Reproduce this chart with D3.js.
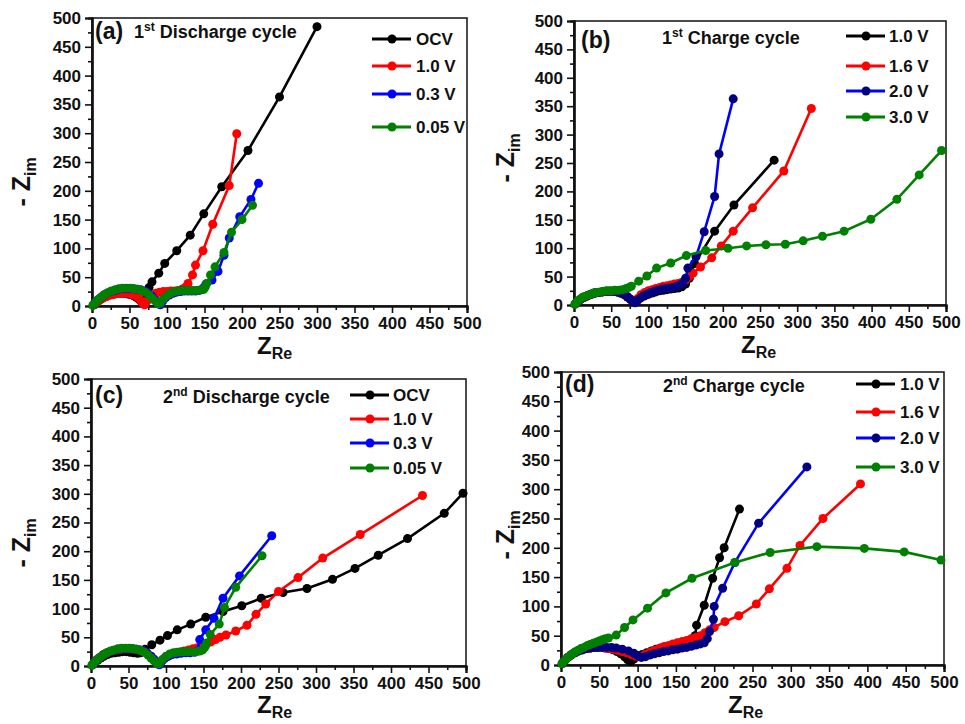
<!DOCTYPE html>
<html>
<head>
<meta charset="utf-8">
<script src="https://cdn.jsdelivr.net/npm/d3@7"></script>
<style>
  body { margin: 0; background: #fff; }
  text { font-family: "Liberation Sans", Arial, sans-serif; font-weight: bold; fill: #111; }
</style>
</head>
<body>
<svg id="fig" width="965" height="724"></svg>
<script>
// ---- ticks / labels ----
var majorTicks = [0, 50, 100, 150, 200, 250, 300, 350, 400, 450, 500]
var minorTicks = [25, 75, 125, 175, 225, 275, 325, 375, 425, 475]
var dischargeLabels = ["OCV", "1.0 V", "0.3 V", "0.05 V"]
var chargeLabels = ["1.0 V", "1.6 V", "2.0 V", "3.0 V"]

// ---- (a) 1st discharge ----
var dis1_ocv = [[3,2],[6,6],[9,9],[12,12],[15,14],[19,17],[23,19],[27,20],[31,21],[35,22],[39,22],[43,22],[47,21],[51,20],[55,18],[59,15],[63,11],[66,7],[69,5],[71,13],[73,24],[76,32],[80,42],[89,57],[97,74],[113,96],[131,123],[149,160],[173,207],[208,270],[250,363],[300,485]]
var dis1_v10 = [[3,2],[7,7],[11,11],[15,14],[20,17],[25,19],[30,21],[35,22],[40,22],[45,22],[50,21],[55,19],[60,16],[64,11],[67,6],[70,2],[73,8],[76,14],[80,19],[85,22],[90,24],[95,25],[100,25],[105,26],[110,26],[115,27],[120,29],[124,32],[128,39],[134,54],[138,71],[148,96],[161,142],[183,209],[193,299]]
var dis1_v03 = [[2,2],[5,7],[8,11],[12,15],[16,19],[20,22],[25,25],[30,27],[35,29],[40,30],[45,30],[50,30],[55,30],[60,29],[65,28],[70,26],[75,22],[80,17],[84,11],[88,5],[91,2],[94,8],[98,14],[103,19],[108,22],[113,24],[118,25],[123,26],[128,26],[133,26],[138,26],[142,27],[146,28],[149,32],[152,38],[160,45],[168,60],[176,88],[183,118],[197,155],[212,185],[222,213]]
var dis1_v005 = [[1,1],[3,4],[6,8],[9,12],[13,16],[17,20],[21,23],[26,26],[31,28],[36,30],[41,31],[46,31],[51,31],[56,30],[61,29],[66,27],[71,24],[76,19],[80,14],[84,9],[88,4],[91,5],[95,12],[100,18],[105,22],[110,25],[115,26],[120,27],[125,27],[130,27],[135,27],[140,27],[145,28],[149,29],[151,33],[153,39],[158,54],[164,68],[176,93],[186,128],[200,150],[214,175]]

// ---- (b) 1st charge ----
var chg1_v10 = [[2,2],[5,6],[9,10],[13,13],[18,16],[23,19],[28,21],[33,22],[38,23],[43,24],[48,24],[53,24],[58,23],[63,21],[68,18],[72,14],[76,10],[79,7],[82,5],[86,9],[90,13],[95,16],[100,19],[105,21],[110,23],[115,25],[120,26],[125,27],[130,28],[135,29],[140,30],[145,32],[150,37],[155,47],[162,73],[189,130],[215,176],[269,255]]
var chg1_v16 = [[2,2],[5,6],[9,10],[13,13],[18,16],[23,19],[28,21],[33,22],[38,23],[43,24],[48,24],[53,24],[58,23],[63,21],[68,18],[72,14],[76,10],[79,7],[82,6],[86,12],[90,18],[95,22],[100,25],[105,27],[110,29],[115,31],[120,33],[125,34],[130,35],[135,37],[140,38],[145,40],[150,44],[155,50],[160,56],[170,67],[185,83],[198,104],[214,130],[240,171],[282,236],[319,346]]
var chg1_v20 = [[2,2],[5,6],[9,10],[13,13],[18,16],[23,19],[28,21],[33,22],[38,23],[43,24],[48,24],[53,24],[58,23],[63,21],[68,18],[72,14],[76,10],[79,6],[82,4],[85,8],[89,12],[93,16],[98,19],[103,22],[108,24],[113,26],[118,28],[123,29],[128,30],[133,31],[138,33],[142,35],[146,38],[150,47],[153,65],[164,85],[175,129],[189,191],[195,266],[214,363]]
var chg1_v30 = [[1,1],[3,4],[5,7],[8,10],[11,13],[14,15],[18,17],[22,19],[26,21],[30,22],[35,23],[40,24],[45,25],[50,25],[55,26],[60,26],[65,27],[70,29],[74,31],[77,33],[87,42],[98,51],[111,65],[130,74],[151,87],[177,96],[207,100],[232,104],[258,106],[284,107],[308,113],[334,121],[363,130],[399,151],[434,186],[464,229],[494,272]]

// ---- (c) 2nd discharge ----
var dis2_ocv = [[2,2],[5,6],[9,10],[13,14],[17,17],[22,20],[27,22],[32,23],[37,24],[42,25],[47,25],[52,24],[57,23],[62,22],[66,23],[72,29],[81,37],[92,45],[102,53],[115,63],[133,73],[153,85],[176,95],[201,105],[227,118],[256,128],[288,135],[322,151],[352,170],[383,193],[422,222],[471,266],[496,301]]
var dis2_v10 = [[2,2],[5,7],[8,11],[12,15],[16,19],[20,22],[25,25],[30,27],[35,28],[40,29],[45,30],[50,30],[55,30],[60,29],[65,28],[70,26],[75,22],[80,17],[84,12],[88,7],[91,4],[95,9],[100,15],[106,19],[112,22],[118,24],[124,26],[130,28],[136,30],[142,32],[148,35],[154,38],[160,42],[166,46],[172,50],[180,54],[193,61],[208,71],[220,90],[233,108],[250,130],[276,154],[309,188],[359,229],[442,297]]
var dis2_v03 = [[2,2],[5,7],[8,11],[12,15],[16,19],[20,22],[25,25],[30,27],[35,29],[40,30],[45,30],[50,30],[55,30],[60,29],[65,28],[70,26],[75,22],[80,17],[84,11],[88,5],[91,2],[94,8],[98,13],[103,17],[108,20],[114,21],[120,22],[126,23],[132,23],[138,24],[142,26],[145,46],[153,63],[164,83],[176,118],[198,157],[241,227]]
var dis2_v005 = [[1,1],[3,4],[6,8],[9,12],[13,16],[17,20],[21,23],[26,26],[31,28],[36,30],[41,31],[46,31],[51,31],[56,30],[61,29],[66,27],[71,24],[76,19],[80,14],[84,9],[88,4],[91,4],[95,11],[100,17],[105,21],[110,23],[115,24],[120,25],[125,25],[130,25],[135,25],[140,25],[145,26],[149,28],[152,33],[154,40],[159,55],[171,73],[178,102],[193,137],[228,192]]

// ---- (d) 2nd charge ----
var chg2_v10 = [[2,3],[5,8],[9,13],[13,17],[18,21],[23,24],[28,26],[33,28],[38,29],[43,30],[48,30],[53,30],[58,29],[63,28],[68,26],[73,23],[78,19],[83,14],[87,9],[91,6],[95,10],[100,14],[106,18],[112,21],[118,24],[124,27],[130,29],[136,31],[142,33],[148,35],[154,37],[160,39],[166,41],[171,44],[175,50],[177,68],[187,102],[198,148],[207,183],[213,200],[233,266]]
var chg2_v16 = [[2,3],[5,8],[9,13],[13,17],[18,21],[23,24],[28,26],[33,28],[38,29],[43,30],[48,30],[53,30],[58,29],[63,28],[68,27],[74,25],[80,23],[86,21],[92,18],[98,15],[104,14],[110,18],[116,22],[122,25],[128,28],[134,31],[140,33],[146,36],[152,38],[158,40],[164,42],[170,45],[176,47],[182,50],[188,55],[194,60],[200,64],[214,74],[232,84],[255,104],[272,130],[295,165],[312,204],[342,250],[391,309]]
var chg2_v20 = [[2,3],[5,8],[9,13],[13,17],[18,21],[23,24],[28,26],[33,28],[38,29],[43,30],[48,30],[54,30],[60,30],[66,30],[72,29],[80,27],[88,24],[95,20],[100,16],[105,13],[110,14],[116,17],[122,19],[128,21],[134,23],[140,24],[146,26],[152,27],[158,29],[164,30],[170,32],[176,34],[182,36],[187,38],[191,45],[194,57],[199,78],[200,100],[211,131],[227,175],[258,242],[321,338]]
var chg2_v30 = [[1,2],[3,5],[6,9],[9,13],[12,16],[15,19],[18,22],[22,25],[26,28],[30,30],[34,33],[38,35],[42,37],[46,39],[50,41],[54,43],[58,45],[62,46],[72,51],[83,64],[94,77],[113,97],[137,123],[171,148],[227,175],[273,192],[334,202],[396,199],[448,193],[496,179]]

// ---- layout ----
var lineColors = ["#000000", "#ff0000", "#0000ff", "#008000"]
var dischargeDots = ["#000000", "#ff0000", "#0000ff", "#008000"]
var chargeDots = ["#000000", "#ff0000", "#000080", "#008000"]

var panels = [
  {box: {x0: 92, x1: 467, y0: 18, y1: 306}, series: [dis1_ocv, dis1_v10, dis1_v03, dis1_v005],
   labels: dischargeLabels, dots: dischargeDots, tag: "(a)", tagPos: [95, 39],
   ord: "st", name: " Discharge cycle", namePos: [134, 38],
   leg: {x: 372, tx: 416, ys: [39, 66, 94, 127]}, xt: [257, 354], yt: [30, 182]},
  {box: {x0: 574, x1: 946, y0: 21, y1: 305}, series: [chg1_v10, chg1_v16, chg1_v20, chg1_v30],
   labels: chargeLabels, dots: chargeDots, tag: "(b)", tagPos: [581, 48],
   ord: "st", name: " Charge cycle", namePos: [662, 44],
   leg: {x: 846, tx: 889, ys: [36, 66, 91, 117]}, xt: [741, 353], yt: [514, 158]},
  {box: {x0: 91, x1: 466, y0: 379, y1: 666}, series: [dis2_ocv, dis2_v10, dis2_v03, dis2_v005],
   labels: dischargeLabels, dots: dischargeDots, tag: "(c)", tagPos: [95, 403],
   ord: "nd", name: " Discharge cycle", namePos: [163, 403],
   leg: {x: 350, tx: 393, ys: [395, 419, 443, 468]}, xt: [257, 713], yt: [30, 543]},
  {box: {x0: 561, x1: 944, y0: 372, y1: 665}, series: [chg2_v10, chg2_v16, chg2_v20, chg2_v30],
   labels: chargeLabels, dots: chargeDots, tag: "(d)", tagPos: [565, 392],
   ord: "nd", name: " Charge cycle", namePos: [663, 392],
   leg: {x: 856, tx: 900, ys: [384, 412, 438, 467]}, xt: [728, 713], yt: [514, 535]}
]

var svg = d3.select("#fig")

panels.forEach(function(p) {
  var b = p.box
  var x = d3.scaleLinear().domain([0, 500]).range([b.x0, b.x1])
  var y = d3.scaleLinear().domain([0, 500]).range([b.y1, b.y0])
  var g = svg.append("g")

  // frame
  g.append("rect")
    .attr("x", b.x0).attr("y", b.y0)
    .attr("width", b.x1 - b.x0).attr("height", b.y1 - b.y0)
    .attr("fill", "none").attr("stroke", "#111").attr("stroke-width", 1.5)

  // minor ticks
  g.append("g").attr("transform", "translate(0," + b.y1 + ")")
    .call(d3.axisBottom(x).tickValues(minorTicks).tickSize(4).tickFormat(""))
  g.append("g").attr("transform", "translate(" + b.x0 + ",0)")
    .call(d3.axisLeft(y).tickValues(minorTicks).tickSize(4).tickFormat(""))

  // major ticks
  g.append("g").attr("transform", "translate(0," + b.y1 + ")")
    .call(d3.axisBottom(x).tickValues(majorTicks).tickSize(7).tickPadding(4))
  g.append("g").attr("transform", "translate(" + b.x0 + ",0)")
    .call(d3.axisLeft(y).tickValues(majorTicks).tickSize(7).tickPadding(4))

  g.selectAll(".domain").attr("stroke", "#111").attr("stroke-width", 2.2)
  g.selectAll(".tick line").attr("stroke", "#111").attr("stroke-width", 1.6)
  g.selectAll(".tick text")
    .style("font-family", "'Liberation Sans', Arial, sans-serif")
    .style("font-weight", "bold").style("font-size", "17px").attr("fill", "#111")

  // series, first legend entry drawn first
  var line = d3.line().x(function(d) { return x(d[0]) }).y(function(d) { return y(d[1]) })
  p.series.forEach(function(s, i) {
    g.append("path").datum(s)
      .attr("d", line)
      .attr("fill", "none")
      .attr("stroke", lineColors[i])
      .attr("stroke-width", 2.6)
    g.selectAll(null).data(s).enter().append("circle")
      .attr("cx", function(d) { return x(d[0]) })
      .attr("cy", function(d) { return y(d[1]) })
      .attr("r", 4.5)
      .attr("fill", p.dots[i])
  })

  // legend
  p.labels.forEach(function(lab, i) {
    var ly = p.leg.ys[i]
    g.append("line")
      .attr("x1", p.leg.x).attr("x2", p.leg.x + 39)
      .attr("y1", ly).attr("y2", ly)
      .attr("stroke", lineColors[i]).attr("stroke-width", 3)
    g.append("circle")
      .attr("cx", p.leg.x + 20).attr("cy", ly).attr("r", 4.5)
      .attr("fill", p.dots[i])
    g.append("text")
      .attr("x", p.leg.tx).attr("y", ly + 6)
      .style("font-size", "17px")
      .text(lab)
  })

  // panel title
  g.append("text").attr("x", p.tagPos[0]).attr("y", p.tagPos[1])
    .style("font-size", "23px").text(p.tag)
  var t = g.append("text").attr("x", p.namePos[0]).attr("y", p.namePos[1])
    .style("font-size", "18px")
  t.append("tspan").text(p.ord == "st" ? "1" : "2")
  t.append("tspan").attr("dy", -7).style("font-size", "12px").text(p.ord)
  t.append("tspan").attr("dy", 7).text(p.name)

  // axis titles
  var xt = g.append("text").attr("x", p.xt[0]).attr("y", p.xt[1])
    .style("font-size", "24px")
  xt.append("tspan").text("Z")
  xt.append("tspan").attr("dy", 5).style("font-size", "16px").text("Re")

  var yt = g.append("text")
    .attr("transform", "translate(" + p.yt[0] + "," + p.yt[1] + ") rotate(-90)")
    .attr("text-anchor", "middle")
    .style("font-size", "25px")
  yt.append("tspan").text("- Z")
  yt.append("tspan").attr("dy", 6).style("font-size", "16px").text("im")
})
</script>
</body>
</html>
